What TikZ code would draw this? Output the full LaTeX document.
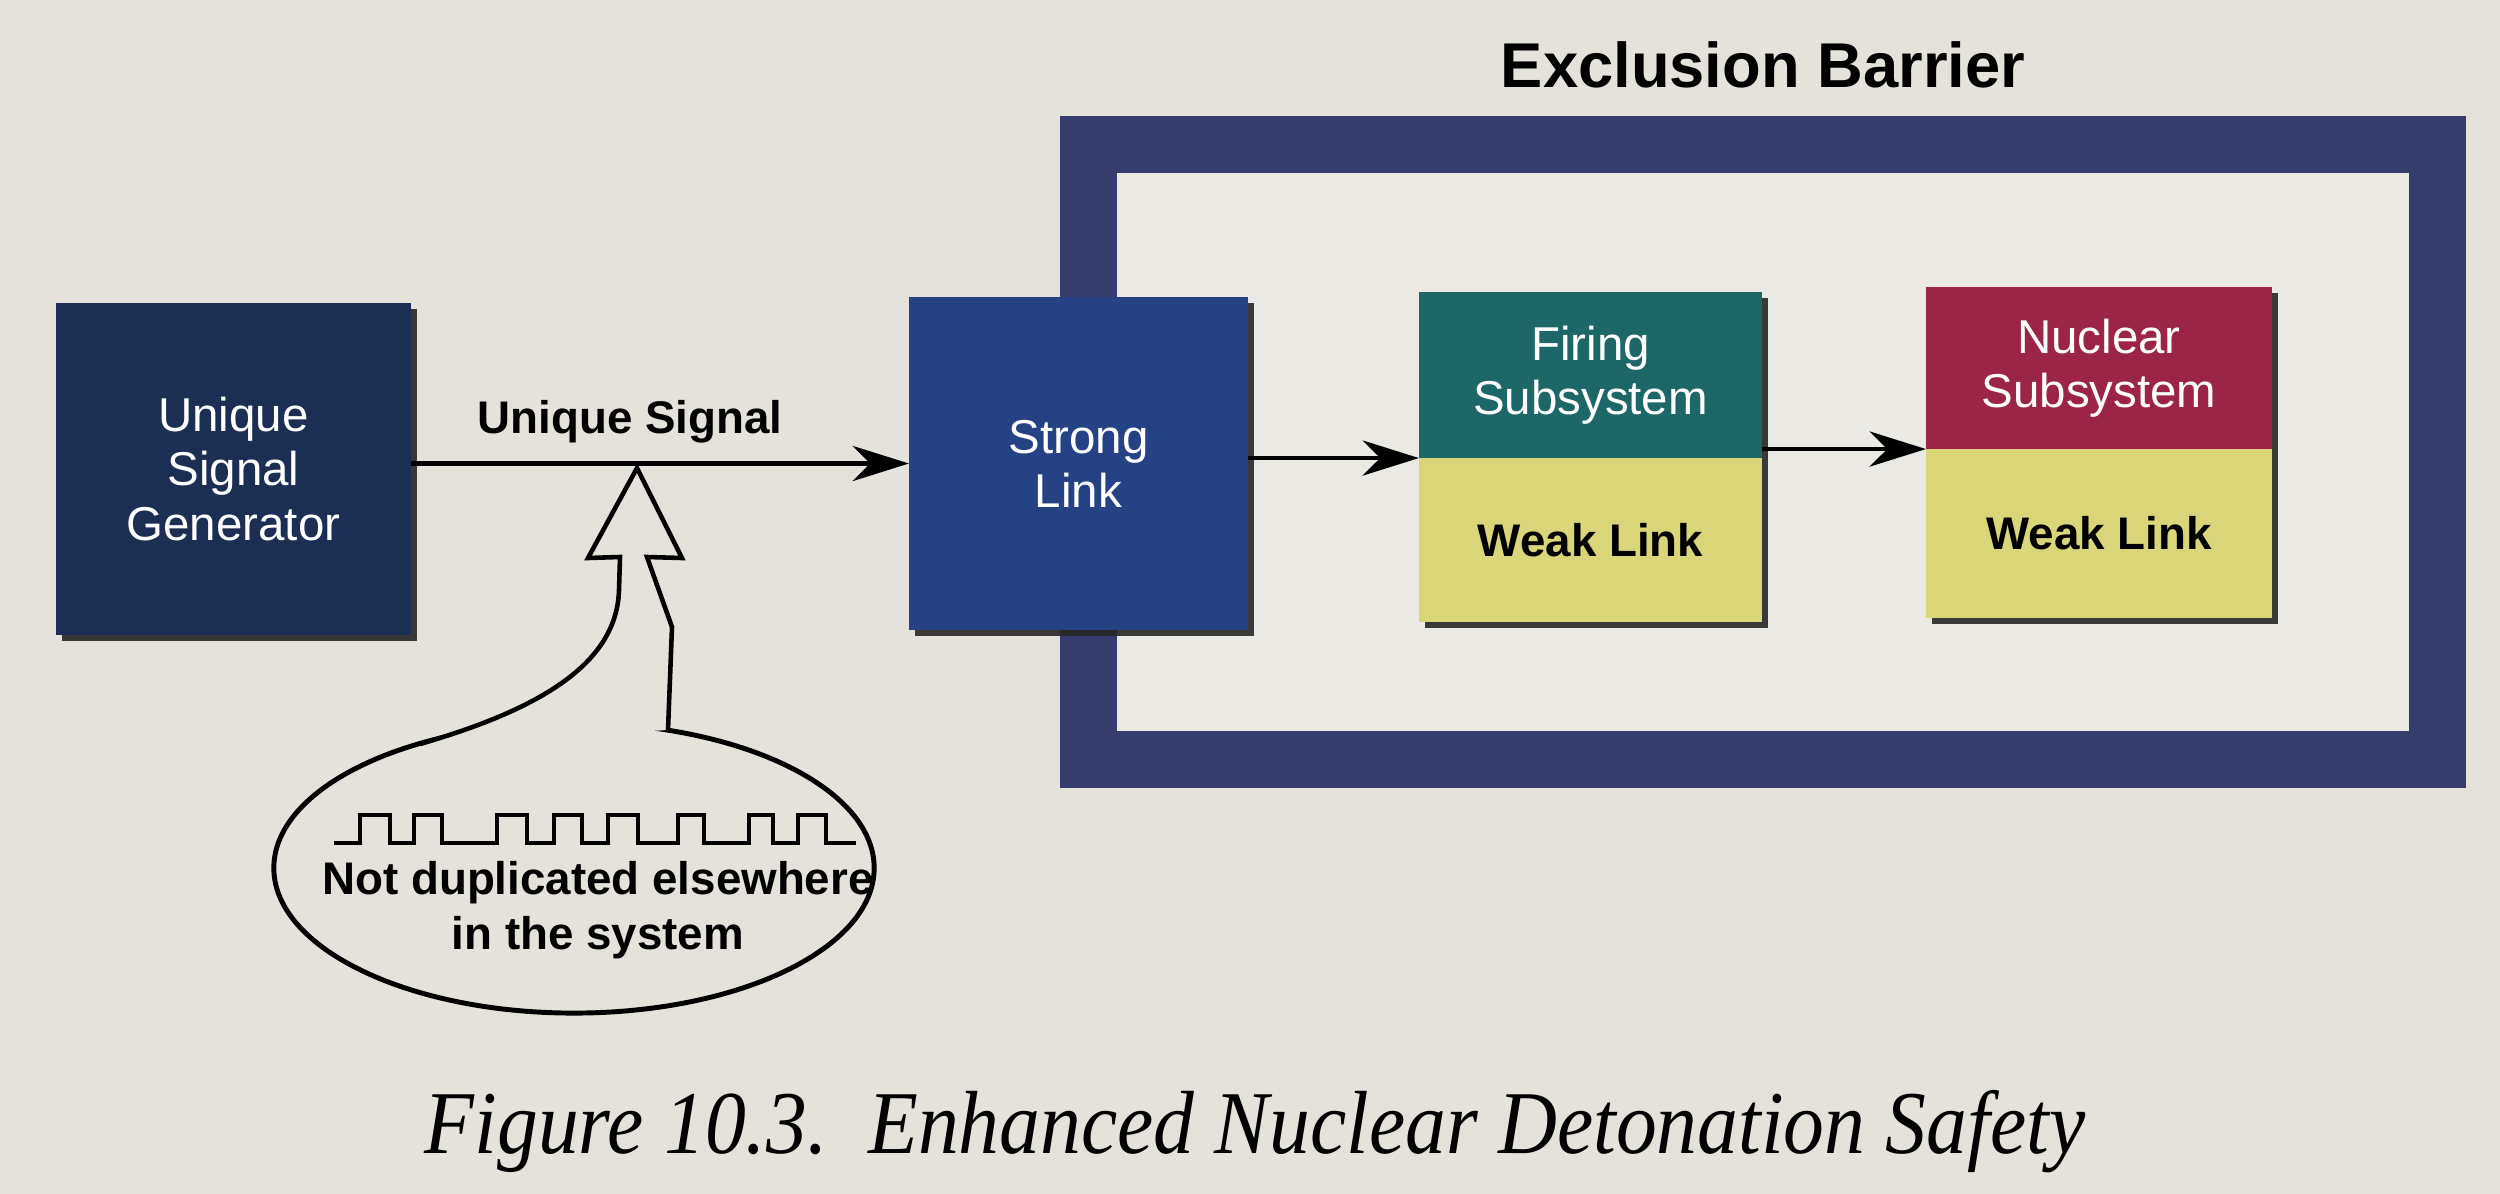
\documentclass[tikz,border=0pt]{standalone}
\usepackage{fontspec}
\setmainfont{Liberation Serif}
\setsansfont{Liberation Sans}
\usepackage{tikz}
\usetikzlibrary{positioning, shapes.geometric, arrows.meta, shadows}

\definecolor{paper}{RGB}{228,226,218}
\definecolor{innerpaper}{RGB}{234,233,228}
\definecolor{navy}{RGB}{29,46,84}
\definecolor{linkblue}{RGB}{36,66,132}
\definecolor{barrierblue}{RGB}{54,61,108}
\definecolor{firingteal}{RGB}{30,103,103}
\definecolor{nuclearred}{RGB}{156,36,70}
\definecolor{weakyellow}{RGB}{217,214,122}

\begin{document}
\begin{tikzpicture}[x=0.01cm, y=-0.01cm]
    % Define styles
    \tikzstyle{linkbox} = [rectangle, inner sep=0pt, outer sep=0pt, align=center, text=white, font=\sffamily\fontsize{13.5}{15.4}\selectfont, drop shadow={shadow xshift=0.06cm, shadow yshift=-0.06cm, opacity=0.9, fill=black!85}]
    \tikzstyle{weakbox} = [linkbox, fill=weakyellow, text=black, font=\sffamily\bfseries\fontsize{13}{15.6}\selectfont]
    \tikzstyle{boldtext} = [inner sep=0pt, align=center, font=\sffamily\bfseries\fontsize{13}{15.6}\selectfont]
    \tikzstyle{barrierframe} = [rectangle, draw=barrierblue, line width=0.57cm, fill=innerpaper]
    \tikzstyle{arrow} = [line width=1.2pt, -{Stealth[length=16pt, width=10pt, inset=5pt]}]

    % Page
    \fill [paper] (0,0) rectangle (2500,1194);
    \useasboundingbox (0,0) rectangle (2500,1194);

    % Nodes
    \node (barrier) [barrierframe, minimum width=13.48cm, minimum height=6.14cm] at (1763,452) {};
    \node (barrier_title) [boldtext, font=\sffamily\bfseries\fontsize{18}{21}\selectfont, above=0.27cm of barrier] {Exclusion Barrier};

    \node (usg) [linkbox, fill=navy, minimum width=3.55cm, minimum height=3.32cm] at (233.5,469) {Unique\\Signal\\Generator};
    \node (strong) [linkbox, fill=linkblue, minimum width=3.39cm, minimum height=3.33cm] at (1078.5,463.5) {Strong\\Link};

    \node (firing_top) [linkbox, fill=firingteal, minimum width=3.43cm, minimum height=1.66cm] at (1590.5,375) {Firing\\Subsystem};
    \node (firing_weak) [weakbox, minimum width=3.43cm, minimum height=1.64cm, below=0cm of firing_top] {Weak Link};

    \node (nuclear_top) [linkbox, fill=nuclearred, minimum width=3.46cm, minimum height=1.62cm] at (2099,368) {Nuclear\\Subsystem};
    \node (nuclear_weak) [weakbox, minimum width=3.46cm, minimum height=1.69cm, below=0cm of nuclear_top] {Weak Link};

    \node (caption) [anchor=base] at (1255,1153) {\scalebox{0.91}[1]{\fontsize{25.5}{30}\selectfont\itshape Figure 10.3.\ \ Enhanced Nuclear Detonation Safety}};

    % Arrows
    \draw [arrow] (usg.east |- strong.west) -- node (signal_label) [boldtext, pos=0.44, above=0.18cm] {Unique Signal} (strong.west);
    \draw [arrow] (strong.east |- firing_top.south) -- (firing_top.south west);
    \draw [arrow] (firing_top.south east |- nuclear_top.south) -- (nuclear_top.south west);

    % Callout
    \node (bubble) [ellipse, draw, line width=1.4pt, fill=paper, minimum width=6cm, minimum height=2.9cm] at (574,868) {};
    \filldraw [fill=paper, line width=1.3pt] (420,744) .. controls (548,707) and (617,660) .. (619,590) -- (620,557) -- (588,558) -- (637,468) -- (682,558) -- (647,557) -- (672,627) -- (668,730);
    \draw [line width=0.9pt] (334,843) -| (360,815) -| (390,843) -| (414,815) -| (442,843) -| (497,815) -| (527,843) -| (554,815) -| (582,843) -| (608,815) -| (638,843) -| (678,815) -| (704,843) -| (749,815) -| (773,843) -| (798,815) -| (826,843) -- (856,843);
    \node (bubble_text) [boldtext] at (598,910) {Not duplicated elsewhere\\in the system};
\end{tikzpicture}
\end{document}
